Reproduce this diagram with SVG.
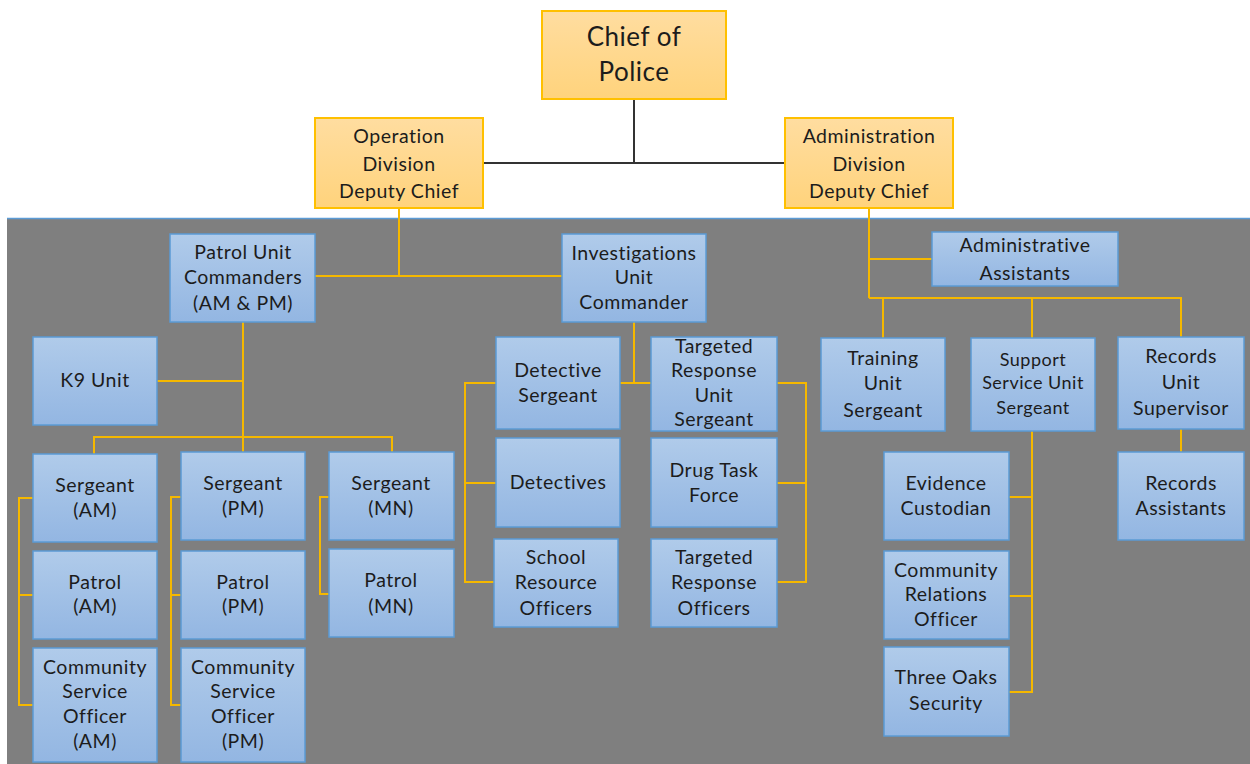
<svg xmlns="http://www.w3.org/2000/svg" width="1250" height="764" viewBox="0 0 1250 764">
<defs>
<linearGradient id="gb" x1="0" y1="0" x2="0" y2="1"><stop offset="0" stop-color="#b0cbea"/><stop offset="1" stop-color="#93b6e2"/></linearGradient>
<linearGradient id="go" x1="0" y1="0" x2="0" y2="1"><stop offset="0" stop-color="#ffdda0"/><stop offset="1" stop-color="#ffd37c"/></linearGradient>
</defs>
<style>
.b{fill:url(#gb);stroke:#5b9bd5;stroke-width:1.5}
.o{fill:url(#go);stroke:#ffc000;stroke-width:2}
text{font-family:Lato,"Open Sans",sans-serif;font-size:19.5px;letter-spacing:0.5px;fill:#1c1c1c;text-anchor:middle}
.big{font-size:26px}
.s{font-size:18px}
.y{fill:none;stroke:#f5b800;stroke-width:2}
.k{fill:none;stroke:#333;stroke-width:2}
</style>
<rect x="0" y="0" width="1250" height="764" fill="#fff"/>
<rect x="7" y="218" width="1243" height="546" fill="#7f7f7f"/>
<line x1="7" y1="218.5" x2="1250" y2="218.5" stroke="#5b9bd5" stroke-width="1.5"/>
<g id="connectors">
<path class="k" d="M634 99V163M483 163H785"/>
<path class="y" d="M399 208V276M315 276H562"/>
<path class="y" d="M243 322V437M157 381H243M94 454V437H392V452M243 437V452"/>
<path class="y" d="M33 498H19V705H33M19 595H33"/>
<path class="y" d="M181 497H171V705H181M171 595H181"/>
<path class="y" d="M329 497H320V594H329"/>
<path class="y" d="M634 322V383M620 383H651"/>
<path class="y" d="M496 383H465V582H494M465 483H496"/>
<path class="y" d="M777 383H806V582H777M806 483H777"/>
<path class="y" d="M869 208V298M869 259H932M869 298H1181V337M883 298V338M1032 298V338"/>
<path class="y" d="M1032 431V692H1009M1032 497H1009M1032 596H1009"/>
<path class="y" d="M1181 429V452"/>
</g>
<g id="chief"><rect class="o" x="542" y="11" width="184" height="88"/><text class="big" x="634" y="46">Chief of</text><text class="big" x="634" y="81">Police</text></g>
<g id="operation"><rect class="o" x="315" y="118" width="168" height="90"/><text x="399" y="143">Operation</text><text x="399" y="171">Division</text><text x="399" y="198">Deputy Chief</text></g>
<g id="administration"><rect class="o" x="785" y="118" width="168" height="90"/><text x="869" y="143">Administration</text><text x="869" y="171">Division</text><text x="869" y="198">Deputy Chief</text></g>
<g id="patrol-cmd"><rect class="b" x="170" y="234" width="145" height="88"/><text x="243" y="259">Patrol Unit</text><text x="243" y="284">Commanders</text><text x="243" y="310">(AM &amp; PM)</text></g>
<g id="investigations"><rect class="b" x="562" y="234" width="144" height="88"/><text x="634" y="260">Investigations</text><text x="634" y="284">Unit</text><text x="634" y="309">Commander</text></g>
<g id="admin-assistants"><rect class="b" x="932" y="232" width="186" height="54"/><text x="1025" y="252">Administrative</text><text x="1025" y="280">Assistants</text></g>
<g id="k9"><rect class="b" x="33" y="337" width="124" height="88"/><text x="95" y="387">K9 Unit</text></g>
<g id="sgt-am"><rect class="b" x="33" y="454" width="124" height="88"/><text x="95" y="492">Sergeant</text><text x="95" y="517">(AM)</text></g>
<g id="patrol-am"><rect class="b" x="33" y="551" width="124" height="88"/><text x="95" y="589">Patrol</text><text x="95" y="613">(AM)</text></g>
<g id="cso-am"><rect class="b" x="33" y="648" width="124" height="114"/><text x="95" y="674">Community</text><text x="95" y="698">Service</text><text x="95" y="723">Officer</text><text x="95" y="748">(AM)</text></g>
<g id="sgt-pm"><rect class="b" x="181" y="452" width="124" height="88"/><text x="243" y="490">Sergeant</text><text x="243" y="515">(PM)</text></g>
<g id="patrol-pm"><rect class="b" x="181" y="551" width="124" height="88"/><text x="243" y="589">Patrol</text><text x="243" y="613">(PM)</text></g>
<g id="cso-pm"><rect class="b" x="181" y="648" width="124" height="114"/><text x="243" y="674">Community</text><text x="243" y="698">Service</text><text x="243" y="723">Officer</text><text x="243" y="748">(PM)</text></g>
<g id="sgt-mn"><rect class="b" x="329" y="452" width="125" height="88"/><text x="391" y="490">Sergeant</text><text x="391" y="515">(MN)</text></g>
<g id="patrol-mn"><rect class="b" x="329" y="549" width="125" height="88"/><text x="391" y="587">Patrol</text><text x="391" y="613">(MN)</text></g>
<g id="det-sgt"><rect class="b" x="496" y="337" width="124" height="92"/><text x="558" y="377">Detective</text><text x="558" y="402">Sergeant</text></g>
<g id="detectives"><rect class="b" x="496" y="438" width="124" height="89"/><text x="558" y="489">Detectives</text></g>
<g id="sro"><rect class="b" x="494" y="539" width="124" height="88"/><text x="556" y="564">School</text><text x="556" y="589">Resource</text><text x="556" y="615">Officers</text></g>
<g id="tru-sgt"><rect class="b" x="651" y="337" width="126" height="94"/><text x="714" y="353">Targeted</text><text x="714" y="377">Response</text><text x="714" y="402">Unit</text><text x="714" y="426">Sergeant</text></g>
<g id="drug"><rect class="b" x="651" y="438" width="126" height="89"/><text x="714" y="477">Drug Task</text><text x="714" y="502">Force</text></g>
<g id="tro"><rect class="b" x="651" y="539" width="126" height="88"/><text x="714" y="564">Targeted</text><text x="714" y="589">Response</text><text x="714" y="615">Officers</text></g>
<g id="training"><rect class="b" x="821" y="338" width="124" height="93"/><text x="883" y="365">Training</text><text x="883" y="390">Unit</text><text x="883" y="417">Sergeant</text></g>
<g id="support"><rect class="b" x="971" y="338" width="124" height="93"/><text class="s" x="1033" y="366">Support</text><text class="s" x="1033" y="389">Service Unit</text><text class="s" x="1033" y="414">Sergeant</text></g>
<g id="records-sup"><rect class="b" x="1118" y="337" width="126" height="92"/><text x="1181" y="363">Records</text><text x="1181" y="389">Unit</text><text x="1181" y="415">Supervisor</text></g>
<g id="evidence"><rect class="b" x="884" y="452" width="125" height="88"/><text x="946" y="490">Evidence</text><text x="946" y="515">Custodian</text></g>
<g id="community-rel"><rect class="b" x="884" y="551" width="125" height="88"/><text x="946" y="577">Community</text><text x="946" y="601">Relations</text><text x="946" y="626">Officer</text></g>
<g id="three-oaks"><rect class="b" x="884" y="647" width="125" height="89"/><text x="946" y="684">Three Oaks</text><text x="946" y="710">Security</text></g>
<g id="records-asst"><rect class="b" x="1118" y="452" width="126" height="88"/><text x="1181" y="490">Records</text><text x="1181" y="515">Assistants</text></g>
</svg>
